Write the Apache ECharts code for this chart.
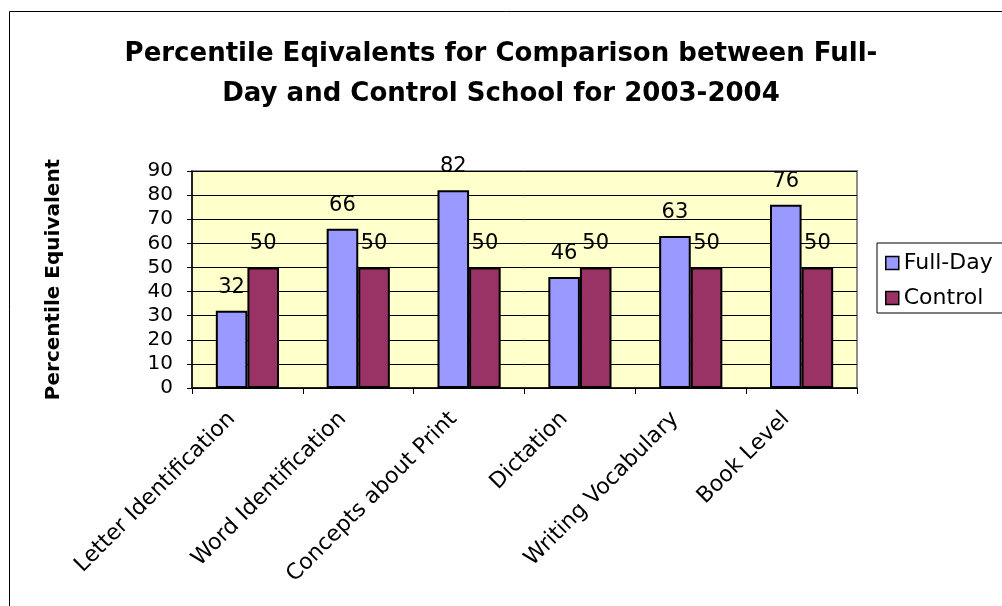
<!DOCTYPE html>
<html>
<head>
<meta charset="utf-8">
<script src="https://cdn.jsdelivr.net/npm/echarts@6/dist/echarts.min.js"></script>
<style>
  html, body { margin: 0; padding: 0; background: #fff; }
  #chart { width: 1002px; height: 606px; }
</style>
</head>
<body>
<div id="chart"></div>
<script>
// Assessment categories along the x axis
const categories = [
  'Letter Identification',
  'Word Identification',
  'Concepts about Print',
  'Dictation',
  'Writing Vocabulary',
  'Book Level'
];
// Percentile equivalents per group
const fullDay = [32, 66, 82, 46, 63, 76];
const control = [50, 50, 50, 50, 50, 50];
const seriesNames = ['Full-Day', 'Control'];
// Value axis range
const yMin = 0, yMax = 90, yStep = 10;

const FONT = '"DejaVu Sans", Verdana, sans-serif';

const chart = echarts.init(document.getElementById('chart'), null, { renderer: 'canvas' });

const labelStyle = {
  show: true,
  position: 'top',
  distance: 13,
  color: '#000',
  fontFamily: FONT,
  fontSize: 21
};

chart.setOption({
  animation: false,
  backgroundColor: '#fff',
  title: {
    text: 'Percentile Eqivalents for Comparison between Full-\nDay and Control School for 2003-2004',
    left: 'center',
    top: 29,
    textStyle: {
      fontFamily: FONT,
      fontSize: 26,
      fontWeight: 'bold',
      color: '#000',
      lineHeight: 40
    }
  },
  legend: {
    orient: 'vertical',
    left: 877,
    top: 243,
    itemWidth: 13,
    itemHeight: 13,
    itemGap: 13,
    padding: [9, 40, 4, 8],
    borderColor: '#000',
    borderWidth: 1,
    backgroundColor: '#fff',
    icon: 'rect',
    itemStyle: { borderColor: '#000', borderWidth: 1.5 },
    textStyle: { fontFamily: FONT, fontSize: 22, color: '#000' },
    data: seriesNames
  },
  grid: {
    left: 192,
    right: 145,
    top: 171,
    bottom: 218,
    show: true,
    backgroundColor: '#FFFFCC',
    borderColor: '#8c8c8c',
    borderWidth: 2
  },
  xAxis: {
    type: 'category',
    data: categories,
    axisLine: { lineStyle: { color: '#000', width: 1.5 } },
    axisTick: { show: true, length: 6, lineStyle: { color: '#000' } },
    axisLabel: {
      interval: 0,
      rotate: 45,
      margin: 12,
      padding: [0, 22, 0, 0],
      fontFamily: FONT,
      fontSize: 22,
      color: '#000'
    },
    splitLine: { show: false }
  },
  yAxis: {
    type: 'value',
    min: yMin,
    max: yMax,
    interval: yStep,
    name: 'Percentile Equivalent',
    nameLocation: 'middle',
    nameRotate: 90,
    nameGap: 128,
    nameTextStyle: { fontFamily: FONT, fontSize: 20, fontWeight: 'bold', color: '#000' },
    axisLine: { show: true, lineStyle: { color: '#000', width: 1.5 } },
    axisTick: { show: true, length: 5, lineStyle: { color: '#000' } },
    axisLabel: { margin: 19, fontFamily: FONT, fontSize: 20, color: '#000' },
    splitLine: { show: true, lineStyle: { color: '#000', width: 1 } }
  },
  series: [
    {
      name: seriesNames[0],
      type: 'bar',
      data: fullDay,
      barGap: '0%',
      barCategoryGap: '43%',
      itemStyle: { color: '#9999FF', borderColor: '#000', borderWidth: 2 },
      label: labelStyle
    },
    {
      name: seriesNames[1],
      type: 'bar',
      data: control,
      barGap: '0%',
      barCategoryGap: '43%',
      itemStyle: { color: '#993366', borderColor: '#000', borderWidth: 2 },
      label: labelStyle
    }
  ],
  graphic: [
    {
      type: 'rect',
      silent: true,
      shape: { x: 9.5, y: 11.5, width: 1200, height: 800 },
      style: { fill: 'none', stroke: '#000', lineWidth: 1 }
    }
  ]
});
</script>
</body>
</html>
